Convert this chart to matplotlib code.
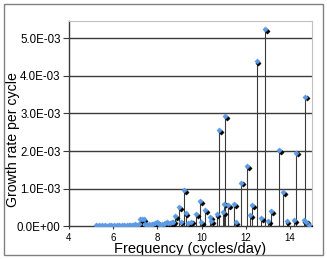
import matplotlib
matplotlib.use("Agg")
import matplotlib.pyplot as plt
import matplotlib.transforms as mtransforms
from matplotlib.patches import Rectangle

plt.rcParams['font.family'] = ['Liberation Sans', 'DejaVu Sans']

# Frequency (cycles/day) and growth rate per cycle (x 1e-3)
freq = [5.20, 5.28, 5.35, 5.42, 5.50, 5.58, 5.65, 5.72, 5.80, 5.88, 5.95, 6.02,
        6.10, 6.18, 6.25, 6.32, 6.40, 6.48, 6.55, 6.62, 6.70, 6.78, 6.85, 6.92,
        7.00, 7.08, 7.15, 7.22, 7.30, 7.38, 7.45, 7.52, 7.60, 7.68, 7.75, 7.82,
        7.90, 7.98, 8.05, 8.12, 8.20, 8.28, 8.35, 8.42, 8.50, 8.58, 8.65,
        8.72, 8.80, 8.99, 9.05, 9.20, 9.28, 9.40, 9.54, 9.77, 9.95, 9.98,
        10.15, 10.39, 10.45, 10.68, 10.79, 10.97, 11.01, 11.07, 11.21, 11.48,
        11.54, 11.78, 12.05, 12.21, 12.30, 12.49, 12.71, 12.87, 13.01, 13.14,
        13.50, 13.70, 13.85, 14.18, 14.30, 14.62, 14.68, 14.75, 14.86]
growth = [0.02, 0.01, 0.02, 0.01, 0.02, 0.01, 0.02, 0.01, 0.02, 0.02, 0.01, 0.02,
          0.01, 0.02, 0.02, 0.01, 0.03, 0.02, 0.01, 0.02, 0.03, 0.02, 0.03, 0.04,
          0.05, 0.04, 0.06, 0.18, 0.20, 0.19, 0.05, 0.04, 0.05, 0.03, 0.06, 0.05,
          0.08, 0.10, 0.09, 0.04, 0.05, 0.06, 0.08, 0.10, 0.07, 0.09, 0.11,
          0.12, 0.27, 0.50, 0.12, 0.96, 0.34, 0.08, 0.12, 0.31, 0.67, 0.10,
          0.43, 0.25, 0.14, 0.31, 2.56, 0.37, 0.60, 2.94, 0.57, 0.59,
          0.10, 1.16, 1.60, 0.29, 0.56, 4.40, 0.21, 5.24, 0.14, 0.41,
          2.02, 0.90, 0.14, 0.16, 1.96, 0.16, 3.45, 0.12, 0.03]
growth = [g * 1e-3 for g in growth]

y_ticks = [0, 1e-3, 2e-3, 3e-3, 4e-3, 5e-3]
y_labels = ["0.0E+00", "1.0E-03", "2.0E-03", "3.0E-03", "4.0E-03", "5.0E-03"]
x_ticks = [4, 6, 8, 10, 12, 14]

fig = plt.figure(figsize=(3.27, 2.59), dpi=100)
fig.patch.set_facecolor('white')
ax = fig.add_axes([0.211, 0.127, 0.743, 0.793])

ax.set_xlim(4, 15)
ax.set_ylim(0, 5.47e-3)

for yt in y_ticks[1:]:
    ax.axhline(yt, color='#3a3a3a', lw=1.0, zorder=1)

ax.vlines(freq, 0, growth, color='#3a3a3a', lw=0.8, zorder=2)

shadow = ax.transData + mtransforms.ScaledTranslation(1.3 / 72, -1.3 / 72, fig.dpi_scale_trans)
ax.plot(freq, growth, linestyle='none', marker='D', ms=2.7, mfc='black', mec='black', mew=0.3,
        transform=shadow, zorder=3)
ax.plot(freq, growth, linestyle='none', marker='D', ms=2.7, mfc='#5b9be6', mec='#5b9be6', mew=0.3,
        zorder=4)

ax.set_yticks(y_ticks)
ax.set_yticklabels(y_labels, fontsize=8.3)
ax.set_xticks(x_ticks)
ax.set_xticklabels([str(t) for t in x_ticks], fontsize=7)
ax.tick_params(axis='y', direction='out', length=4, width=0.8, color='#3a3a3a', pad=2)
ax.tick_params(axis='x', direction='out', length=2, width=0.8, color='#3a3a3a', pad=3)

for s in ['top', 'right']:
    ax.spines[s].set_color('#c0c0c0')
    ax.spines[s].set_linewidth(0.8)
for s in ['left', 'bottom']:
    ax.spines[s].set_color('#3a3a3a')
    ax.spines[s].set_linewidth(1.0)

ax.set_xlabel("Frequency (cycles/day)", fontsize=10.5, labelpad=-1)
ax.set_ylabel("Growth rate per cycle", fontsize=10.2)
ax.yaxis.set_label_coords(-0.2, 0.42)

fig.patches.append(Rectangle((4 / 327, 4 / 259), 319 / 327, 251 / 259, transform=fig.transFigure,
                             fill=False, edgecolor='#808080', lw=1.0))

fig.savefig("out.png", dpi=100)
